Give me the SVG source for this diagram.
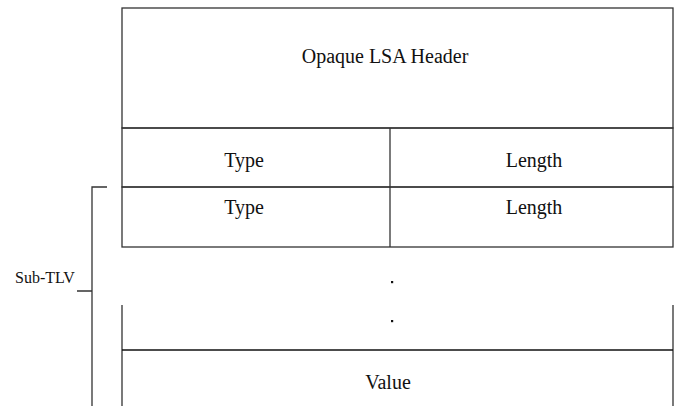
<svg xmlns="http://www.w3.org/2000/svg" width="688" height="406" viewBox="0 0 688 406">
<style>
.ln{fill:none;stroke:#333;stroke-width:1.3}
.t{font-family:"Liberation Serif","Times New Roman",serif;font-size:20px;fill:#111;text-anchor:middle}
</style>
<rect width="688" height="406" fill="#fff"/>
<g id="header">
<rect class="ln" x="122" y="8" width="551" height="120"/>
<text class="t" x="385" y="63">Opaque LSA Header</text>
</g>
<g id="tlv">
<rect class="ln" x="122" y="128" width="551" height="59"/>
<line class="ln" x1="390" y1="128" x2="390" y2="187"/>
<text class="t" x="244" y="167">Type</text>
<text class="t" x="534" y="167">Length</text>
</g>
<g id="subtlv">
<rect class="ln" x="122" y="187" width="551" height="60"/>
<line class="ln" x1="390" y1="187" x2="390" y2="247"/>
<text class="t" x="244" y="214">Type</text>
<text class="t" x="534" y="214">Length</text>
</g>
<g id="dots">
<rect x="391" y="281" width="2.2" height="2.2" fill="#111"/>
<rect x="391" y="320" width="2.2" height="2.2" fill="#111"/>
</g>
<g id="value">
<path class="ln" d="M122,305 V406 M673,305 V406"/>
<line x1="122" y1="350" x2="673" y2="350" stroke="#111" stroke-width="1.3"/>
<text class="t" x="388" y="389">Value</text>
</g>
<g id="connectors">
<path class="ln" d="M107,187 H92 V406 M77,291 H92"/>
<text x="15" y="283" style="font-family:'Liberation Serif','Times New Roman',serif;font-size:16px;fill:#111">Sub-TLV</text>
</g>
</svg>
